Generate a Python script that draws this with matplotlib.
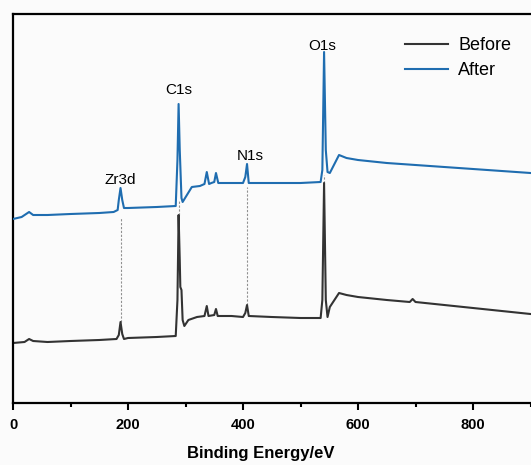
import numpy as np
import matplotlib
matplotlib.use('Agg')
import matplotlib.pyplot as plt
from matplotlib.ticker import MultipleLocator, FixedLocator

plt.rcParams['font.family'] = ['Liberation Sans', 'DejaVu Sans']

# XPS survey spectra, intensity in arbitrary units
before_eV = [0, 20, 28, 35, 60, 100, 150, 180, 184, 187, 190, 193, 200, 250, 283,
             286, 288, 290, 291, 293, 295, 298, 305, 320, 333, 337, 340, 350, 353,
             356, 380, 400, 404, 407, 410, 450, 500, 535, 538, 541, 544, 547, 551,
             567, 580, 600, 650, 690, 695, 700, 750, 800, 850, 900, 1000]
before_int = [60, 61, 64, 62, 61, 62, 63, 64, 68, 81, 69, 64, 65, 66, 67,
              103, 188, 143, 116, 113, 83, 77, 83, 86, 87, 97, 87, 88, 94,
              87, 87, 86, 90, 98, 87, 86, 85, 85, 103, 220, 103, 86, 96,
              110, 108, 106, 103, 101, 104, 101, 98, 95, 92, 89, 85]

after_eV = [0, 15, 28, 35, 60, 100, 150, 175, 182, 184, 187, 190, 193, 200, 250,
            283, 286, 288, 290, 293, 295, 311, 325, 333, 337, 341, 345, 350, 353,
            357, 380, 400, 404, 407, 410, 450, 500, 535, 538, 541, 544, 547, 551,
            567, 580, 600, 650, 700, 750, 800, 850, 900, 1000]
after_int = [184, 186, 191, 188, 188, 189, 190, 191, 193, 203, 215, 203, 195, 195, 196,
             197, 243, 299, 253, 205, 201, 216, 217, 219, 231, 219, 220, 221, 230,
             220, 220, 220, 226, 239, 220, 220, 220, 221, 233, 351, 253, 231, 230,
             248, 245, 243, 240, 238, 236, 234, 232, 230, 227]

# peak labels and guide lines
peak_names = ['Zr3d', 'C1s', 'N1s', 'O1s']
label_eV = [186, 289, 413, 537]
label_y = [216, 306, 240, 350]
guide_eV = [187, 289, 407, 541]
guide_top = [185, 203, 216, 228]
guide_bottom = [81, 188, 98, 220]

fig = plt.figure(figsize=(5.31, 4.65), dpi=100)
fig.patch.set_facecolor('#fbfbfb')
ax = fig.add_axes([13/531, 62/465, 575/531, 389/465])
ax.set_facecolor('#fbfbfb')

ax.vlines(guide_eV, guide_bottom, guide_top, colors='#909090',
          linestyles=(0, (2, 1.5)), linewidth=0.8, zorder=1)
ax.plot(before_eV, before_int, color='#333333', lw=1.5, label='Before', zorder=2)
ax.plot(after_eV, after_int, color='#1f6db0', lw=1.5, label='After', zorder=3)

for name, x, y in zip(peak_names, label_eV, label_y):
    ax.text(x, y, name, ha='center', va='bottom', fontsize=11)

ax.set_xlim(0, 1000)
ax.set_ylim(0, 389)
ax.set_yticks([])
ax.xaxis.set_major_locator(FixedLocator([0, 200, 400, 600, 800]))
ax.xaxis.set_minor_locator(MultipleLocator(100))
ax.tick_params(axis='x', which='major', direction='out', length=5, width=1.5,
               pad=6, labelsize=10.5)
ax.tick_params(axis='x', which='minor', direction='out', length=3, width=1.5)
for lab in ax.get_xticklabels():
    lab.set_fontweight('bold')
for sp in ax.spines.values():
    sp.set_linewidth(1.6)

ax.set_xlabel('Binding Energy/eV', fontsize=12, fontweight='bold')
ax.xaxis.set_label_coords(0.431, -0.11)

fig.legend(loc='upper left', bbox_to_anchor=(405/531, 1 - 37/465), frameon=False,
           fontsize=13, handlelength=2.4, handletextpad=0.55, labelspacing=0.45,
           borderpad=0, borderaxespad=0)

fig.savefig('out.png', dpi=100, facecolor=fig.get_facecolor())
